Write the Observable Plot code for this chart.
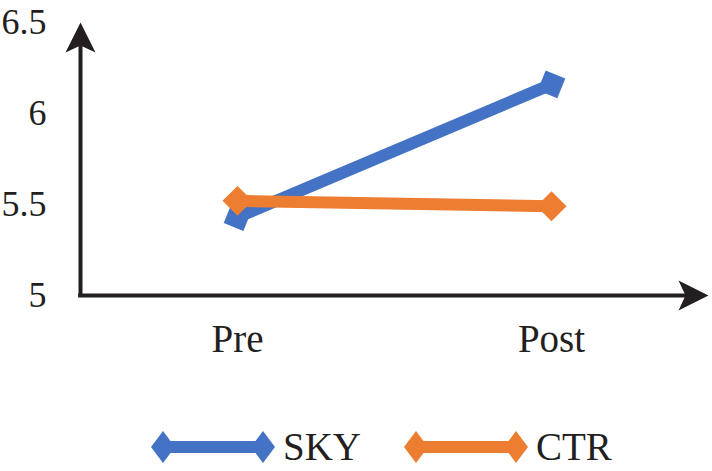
<!DOCTYPE html>
<html>
<head>
<meta charset="utf-8">
<script src="https://cdn.jsdelivr.net/npm/d3@7"></script>
<script src="https://cdn.jsdelivr.net/npm/@observablehq/plot@0.6"></script>
<style>
  html, body { margin: 0; padding: 0; background: #fff; }
  #chart { width: 712px; height: 471px; position: relative; font-family: "Liberation Serif", "Times New Roman", serif; color: #231f20; }
  #legend { position: absolute; left: 151px; top: 428px; display: flex; align-items: center; height: 38px; }
  .item { display: flex; align-items: center; margin-right: 43px; }
  .item span { font-size: 39px; line-height: 38px; margin-left: 7px; }
</style>
</head>
<body>
<div id="chart"></div>
<script>
const phases = ["Pre", "Post"];
const seriesNames = ["SKY", "CTR"];
const skyValues = [5.43, 6.16];
const ctrValues = [5.52, 5.49];
const seriesColors = ["#4472C4", "#ED7D31"];
const yTicks = [5, 5.5, 6, 6.5];

const rows = [];
[skyValues, ctrValues].forEach((vals, s) => {
  vals.forEach((v, i) => rows.push({series: seriesNames[s], x: i + 1, phase: phases[i], value: v}));
});

const ink = "#231f20";
const arrowHead = {
  draw(ctx) {
    ctx.moveTo(0, 0);
    ctx.lineTo(15, 30);
    ctx.lineTo(0, 23);
    ctx.lineTo(-15, 30);
    ctx.closePath();
  }
};

const yMin = yTicks[0], yMax = yTicks[yTicks.length - 1];
const xMin = 0.5, xMax = phases.length + 0.5;

const marks = [
  Plot.axisY({ticks: yTicks, tickSize: 0, tickPadding: 34, fontSize: 36, label: null, tickFormat: d => String(d)}),
  Plot.axisX({ticks: phases.map((p, i) => i + 1), tickSize: 0, tickPadding: 29, fontSize: 39, label: null, tickFormat: d => phases[d - 1]}),
  Plot.ruleX([xMin], {y1: yMin, y2: yMax - 0.05, stroke: ink, strokeWidth: 4}),
  Plot.ruleY([yMin], {x1: xMin - 0.006, x2: xMax - 0.05, stroke: ink, strokeWidth: 4}),
  Plot.dot([{x: xMin, y: yMax}], {x: "x", y: "y", symbol: arrowHead, fill: ink, stroke: "none", rotate: 0}),
  Plot.dot([{x: xMax, y: yMin}], {x: "x", y: "y", symbol: arrowHead, fill: ink, stroke: "none", rotate: 90})
];
seriesNames.forEach((name, s) => {
  const data = rows.filter(d => d.series === name);
  marks.push(Plot.line(data, {x: "x", y: "value", stroke: seriesColors[s], strokeWidth: 12}));
  marks.push(Plot.dot(data, {x: "x", y: "value", symbol: "diamond2", r: 13.5, fill: seriesColors[s], stroke: "none", rotate: s === 0 ? -23 : 0}));
});

const plot = Plot.plot({
  width: 712,
  height: 400,
  marginLeft: 80,
  marginRight: 4,
  marginTop: 22,
  marginBottom: 105,
  style: {fontFamily: "'Liberation Serif', 'Times New Roman', serif", color: ink, background: "#fff", overflow: "visible"},
  x: {type: "linear", domain: [xMin, xMax], label: null},
  y: {domain: [yMin, yMax], label: null},
  marks
});
const chart = document.getElementById("chart");
chart.appendChild(plot);

const legend = document.createElement("div");
legend.id = "legend";
seriesNames.forEach((name, s) => {
  const item = document.createElement("div");
  item.className = "item";
  const ns = "http://www.w3.org/2000/svg";
  const sw = document.createElementNS(ns, "svg");
  sw.setAttribute("width", 125);
  sw.setAttribute("height", 36);
  const c = seriesColors[s];
  sw.innerHTML = `<line x1="12" y1="18" x2="112" y2="18" stroke="${c}" stroke-width="12"/>` +
    `<path d="M12,2 L24,18 L12,34 L0,18Z" fill="${c}"/>` +
    `<path d="M112,2 L124,18 L112,34 L100,18Z" fill="${c}"/>`;
  item.appendChild(sw);
  const t = document.createElement("span");
  t.textContent = name;
  item.appendChild(t);
  legend.appendChild(item);
});
chart.appendChild(legend);
</script>
</body>
</html>
